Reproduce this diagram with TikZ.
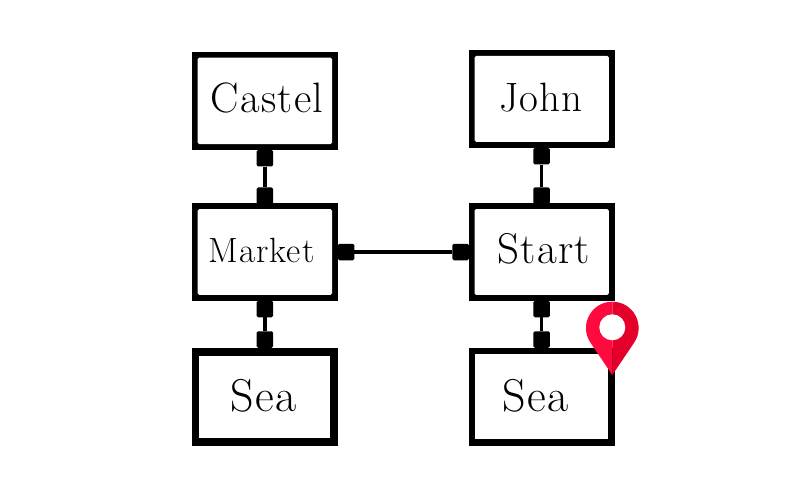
\documentclass[tikz,border=0pt]{standalone}
\usepackage{fontspec}
\setmainfont{Latin Modern Roman}[LetterSpace=3]
\tikzset{x=1pt,y=-1pt,
  outerbox/.style={fill=black,inner sep=0pt,minimum width=146pt,minimum height=98pt},
  innerbox/.style={fill=white,inner sep=0pt,rounded corners=1.5pt},
  squarebox/.style={fill=white,inner sep=0pt},
  label/.style={inner sep=0pt,text=black,anchor=base},
  port/.style={fill=black,inner sep=0pt,minimum size=16.5pt,rounded corners=1.5pt},
  link/.style={draw=black,line width=3.8pt},
  pinshape/.style={even odd rule}}
\definecolor{pinlight}{HTML}{FF0A3F}
\definecolor{pindark}{HTML}{E4002B}
\newcommand{\pinpath}{(612.3,375) -- (590.5,342.7)
  .. controls (578.7,325.2) and (591.2,301.7) .. (612.3,301.7)
  .. controls (633.4,301.7) and (645.9,325.2) .. (634.1,342.7) -- cycle}
\begin{document}
\begin{tikzpicture}
\useasboundingbox (0,0) rectangle (800,500);
\fill[white] (0,0) rectangle (800,500);
% frames
\node[outerbox] (castel) at (264.85,100.85) {};
\node[innerbox,minimum width=134.4pt,minimum height=86.4pt] at (castel) {};
\node[outerbox] (market) at (264.85,252) {};
\node[innerbox,minimum width=134.4pt,minimum height=85.8pt] at (market) {};
\node[outerbox,minimum height=98pt] (seaL) at (264.85,396.7) {};
\node[squarebox,minimum width=131pt,minimum height=82.4pt] at (seaL) {};
\node[outerbox] (john) at (541.65,98.85) {};
\node[innerbox,minimum width=134.2pt,minimum height=85.8pt] at (john) {};
\node[outerbox] (start) at (541.65,252) {};
\node[innerbox,minimum width=134.2pt,minimum height=85.8pt] at (start) {};
\node[outerbox,minimum height=98pt] (seaR) at (541.65,396.7) {};
\node[squarebox,minimum width=132.4pt,minimum height=85pt] at (seaR) {};
% ports
\node[port] (p1) at (264.85,158.2) {};
\node[port] (p2) at (264.85,195.7) {};
\node[port] (p3) at (264.85,309) {};
\node[port] (p4) at (264.85,339.5) {};
\node[port] (p5) at (541.5,156.2) {};
\node[port] (p6) at (541.5,195.7) {};
\node[port] (p7) at (541.5,309) {};
\node[port] (p8) at (541.5,339.5) {};
\node[port] (p9) at (346,252) {};
\node[port] (p10) at (460.5,252) {};
\path[link] (p1) -- (p2);
\path[link] (p3) -- (p4);
\path[link] (p5) -- (p6);
\path[link] (p7) -- (p8);
\path[link] (p9) -- (p10);
% labels
\node[label,font=\fontsize{42.5}{42}\selectfont] (t1) at (267,112.7) {Castel};
\node[label,font=\fontsize{35}{35}\selectfont] (t2) at (261.5,262.7) {Market};
\node[label,font=\fontsize{46}{46}\selectfont] (t3) at (264,411.7) {Sea};
\node[label,font=\fontsize{41}{41}\selectfont] (t4) at (541,112) {John};
\node[label,font=\fontsize{43}{43}\selectfont] (t5) at (543.5,263.3) {Start};
\node[label,font=\fontsize{46}{46}\selectfont] (t6) at (536,411.7) {Sea};
% pin
\begin{scope}
\clip (570,295) rectangle (612.5,380);
\fill[pinlight] \pinpath;
\end{scope}
\begin{scope}
\clip (612.5,295) rectangle (650,380);
\fill[pindark] \pinpath;
\end{scope}
\fill[white] (612.3,327.3) circle[radius=13];
\end{tikzpicture}
\end{document}
